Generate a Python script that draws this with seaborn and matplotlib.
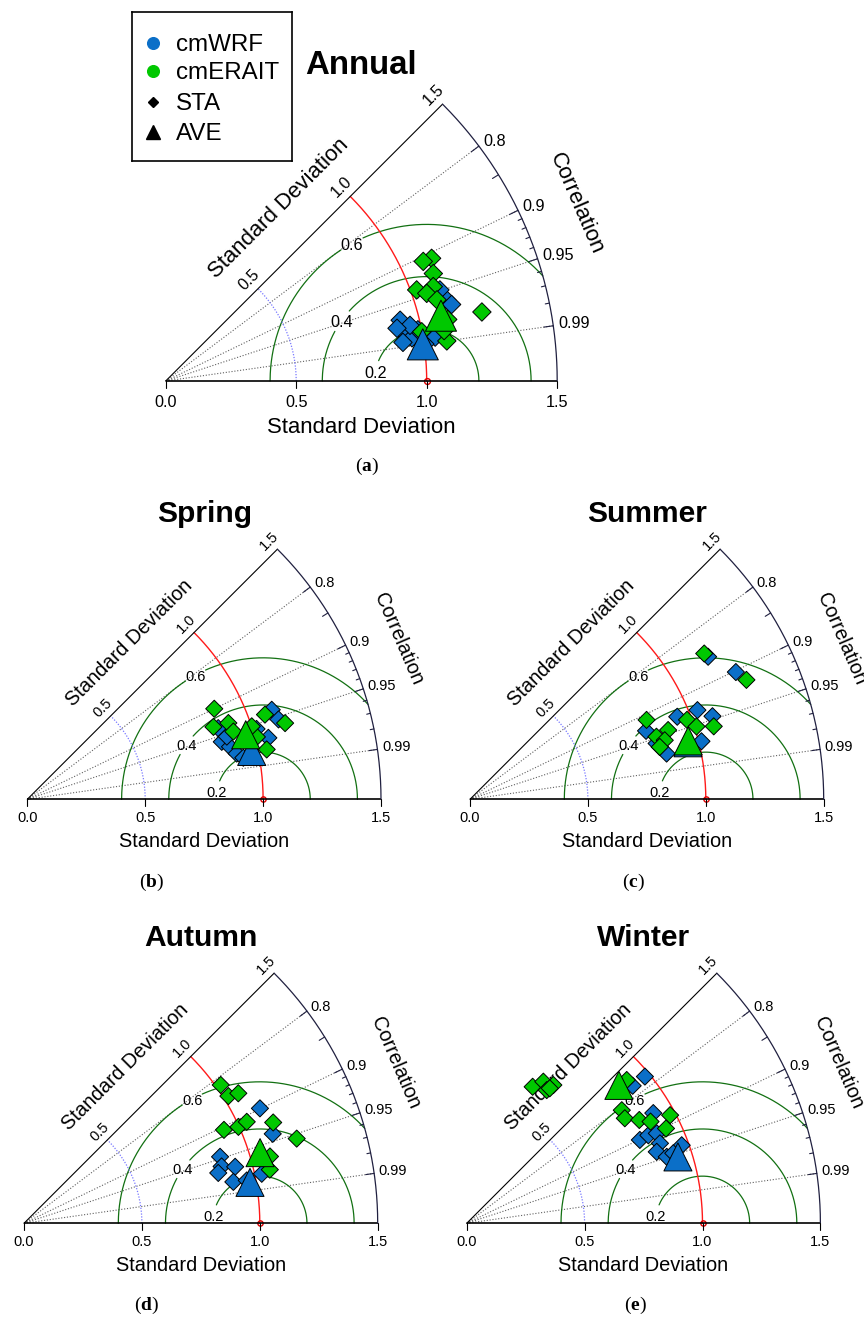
import numpy as np
import pandas as pd
import matplotlib
matplotlib.use("Agg")
import matplotlib.pyplot as plt
import seaborn as sns

# ---------------- station statistics (normalised std, correlation) ----------------
annual_wrf_std = [0.928, 0.935, 0.958, 0.921, 0.986, 1.046, 1.121, 1.134, 1.107, 1.003, 0.960, 0.909]
annual_wrf_cor = [0.968, 0.981, 0.985, 0.987, 0.980, 0.987, 0.961, 0.966, 0.949, 0.990, 0.975, 0.975]
annual_erait_std = [1.122, 1.088, 1.105, 1.023, 1.087, 1.055, 1.240, 1.088, 1.084, 1.085, 0.999, 1.106]
annual_erait_cor = [0.908, 0.907, 0.928, 0.940, 0.943, 0.948, 0.977, 0.990, 0.984, 0.958, 0.982, 0.977]

spring_wrf_std = [1.104, 1.118, 0.864, 1.055, 1.017, 0.860, 0.888, 0.909, 0.933, 0.887]
spring_wrf_cor = [0.939, 0.953, 0.937, 0.969, 0.956, 0.959, 0.968, 0.977, 0.982, 0.954]
spring_erait_std = [0.881, 1.070, 1.140, 0.847, 0.912, 0.920, 1.009, 1.037, 1.001]
spring_erait_cor = [0.900, 0.942, 0.959, 0.932, 0.935, 0.950, 0.965, 0.979, 0.951]

summer_wrf_std = [1.177, 1.250, 0.946, 1.036, 1.087, 0.801, 1.012, 0.835, 0.856, 0.826]
summer_wrf_cor = [0.858, 0.902, 0.929, 0.931, 0.946, 0.932, 0.970, 0.964, 0.974, 0.958]
summer_erait_std = [1.170, 1.277, 0.821, 0.980, 1.009, 1.079, 0.890, 0.834, 0.863, 0.835]
summer_erait_cor = [0.849, 0.918, 0.912, 0.939, 0.952, 0.958, 0.944, 0.948, 0.957, 0.964]

autumn_wrf_std = [1.113, 1.121, 0.878, 0.872, 0.927, 0.851, 0.905, 1.030, 0.962]
autumn_wrf_cor = [0.899, 0.941, 0.947, 0.961, 0.966, 0.968, 0.981, 0.979, 0.982]
autumn_erait_std = [1.020, 1.021, 1.063, 0.936, 0.997, 1.038, 1.140, 1.211, 1.081, 1.067]
autumn_erait_cor = [0.818, 0.849, 0.855, 0.906, 0.912, 0.910, 0.927, 0.955, 0.965, 0.977]

winter_wrf_std = [0.979, 0.914, 0.919, 0.815, 0.856, 0.892, 0.887, 0.861, 0.894, 0.970, 0.925]
winter_wrf_cor = [0.772, 0.770, 0.861, 0.901, 0.900, 0.904, 0.924, 0.936, 0.949, 0.940, 0.947]
winter_erait_std = [0.643, 0.683, 0.659, 0.692, 0.672, 0.911, 0.814, 0.805, 0.853, 0.891, 0.977, 0.936]
winter_erait_cor = [0.435, 0.476, 0.515, 0.531, 0.524, 0.745, 0.808, 0.833, 0.858, 0.875, 0.883, 0.903]

# averages over all stations: Annual, Spring, Summer, Autumn, Winter
ave_wrf_std = [0.995, 0.973, 0.955, 0.974, 0.939]
ave_wrf_cor = [0.990, 0.978, 0.968, 0.984, 0.954]
ave_erait_std = [1.084, 0.966, 0.958, 1.045, 0.871]
ave_erait_cor = [0.973, 0.959, 0.966, 0.958, 0.741]

season_titles = ["Annual", "Spring", "Summer", "Autumn", "Winter"]
panel_letters = ["a", "b", "c", "d", "e"]
legend_labels = ["cmWRF", "cmERAIT", "STA", "AVE"]

std_ticks = [0.0, 0.5, 1.0, 1.5]
cor_major = [0.8, 0.9, 0.95, 0.99]
cor_mid = [0.85]
cor_minor = [0.91, 0.92, 0.93, 0.94, 0.96, 0.97, 0.98]
rms_levels = [0.2, 0.4, 0.6]
rms_label_angle = {0.2: 170.5, 0.4: 144.7, 0.6: 118.6}

# ---------------- style ----------------
sns.set_theme(style="white")
plt.rcParams["font.family"] = ["Liberation Sans", "DejaVu Sans"]
plt.rcParams["text.color"] = "black"
plt.rcParams["mathtext.fontset"] = "custom"
plt.rcParams["mathtext.rm"] = "Liberation Serif"
plt.rcParams["mathtext.bf"] = "Liberation Serif:bold"

W, H, DPI = 864, 1320, 100
fig = plt.figure(figsize=(W / DPI, H / DPI), dpi=DPI)
fig.patch.set_facecolor("white")

WRF_C = "#0b6fc8"
ERA_C = "#00c800"
RMS_C = "#127012"
SMAX = 1.5
TMAX = np.pi / 4


def xy(s, c):
    s = np.asarray(s, float)
    c = np.asarray(c, float)
    return s * c, s * np.sqrt(1.0 - c ** 2)


def make_axes(ox, oy, u, xl=(-0.25, 1.95), yl=(-0.32, 1.75)):
    """Axes whose data units map to u pixels with the origin at pixel (ox, oy)."""
    left = (ox + xl[0] * u) / W
    bottom = (H - oy + yl[0] * u) / H
    ax = fig.add_axes([left, bottom, (xl[1] - xl[0]) * u / W, (yl[1] - yl[0]) * u / H])
    ax.set_xlim(xl)
    ax.set_ylim(yl)
    ax.set_axis_off()
    return ax, xl, yl


def draw_frame(ax, k):
    fs_tick = 11.7 * k
    fs_lab = 15.9 * k
    t = np.linspace(0, TMAX, 300)

    # correlation rays
    for c in cor_major:
        a = np.arccos(c)
        ax.plot([0, SMAX * np.cos(a)], [0, SMAX * np.sin(a)], color="#606060",
                lw=0.8, ls=(0, (1, 1.6)), zorder=1)

    # centred RMS difference arcs, broken where labelled
    phi = np.linspace(0, np.pi, 800)
    for r in rms_levels:
        px = 1 + r * np.cos(phi)
        py = r * np.sin(phi)
        inside = (np.hypot(px, py) <= SMAX) & (np.arctan2(py, px) <= TMAX)
        la = np.deg2rad(rms_label_angle[r])
        gap = 0.047 / r
        keep = inside & (np.abs(phi - la) > gap)
        yy = np.where(keep, py, np.nan)
        ax.plot(px, yy, color=RMS_C, lw=0.9, zorder=1)
        ax.text(1 + r * np.cos(la), r * np.sin(la), f"{r:.1f}", fontsize=fs_tick,
                ha="center", va="center_baseline", zorder=4)

    # reference std arcs
    ax.plot(0.5 * np.cos(t), 0.5 * np.sin(t), color="#7878ff", lw=0.9,
            ls=(0, (1, 1.3)), zorder=1)
    ax.plot(np.cos(t), np.sin(t), color="#ff1a1a", lw=1.0, zorder=2)
    ax.plot([1.0], [0.0], marker="o", ms=4.2 * k, mfc="none", mec="#e00000",
            mew=1.0, zorder=3)

    # boundaries
    ax.plot([0, SMAX], [0, 0], color="black", lw=1.2, solid_capstyle="butt", zorder=3)
    ax.plot([0, SMAX * np.cos(TMAX)], [0, SMAX * np.sin(TMAX)], color="black", lw=0.8, zorder=3)
    ax.plot(SMAX * np.cos(t), SMAX * np.sin(t), color="#202040", lw=0.9, zorder=3)

    # correlation ticks on the outer arc
    for group, ln in ((cor_major, 0.036), (cor_mid, 0.027), (cor_minor, 0.016)):
        for c in group:
            a = np.arccos(c)
            ax.plot([SMAX * np.cos(a), (SMAX - ln) * np.cos(a)],
                    [SMAX * np.sin(a), (SMAX - ln) * np.sin(a)],
                    color="#202040", lw=0.8, zorder=3)
    for c in cor_major:
        a = np.arccos(c)
        ax.text(1.52 * np.cos(a), 1.52 * np.sin(a) + 0.012, f"{c:g}", fontsize=fs_tick,
                ha="left", va="center_baseline", zorder=4)

    # std ticks and labels on x axis
    for s in std_ticks:
        ax.plot([s, s], [0, -0.027], color="black", lw=0.8, zorder=3)
        ax.text(s, -0.075, f"{s:.1f}", fontsize=fs_tick, ha="center",
                va="center_baseline", zorder=4)
    ax.text(0.75, -0.169, "Standard Deviation", fontsize=fs_lab, ha="center",
            va="center_baseline", zorder=4)

    # std labels on the 45 degree edge
    n = np.array([-np.sin(TMAX), np.cos(TMAX)])
    d = np.array([np.cos(TMAX), np.sin(TMAX)])
    for s in std_ticks[1:]:
        p = s * d + 0.055 * n
        ax.text(p[0], p[1], f"{s:.1f}", fontsize=fs_tick, rotation=45,
                rotation_mode="anchor", ha="center", va="center_baseline", zorder=4)
    p = 0.773 * d + 0.172 * n
    ax.text(p[0], p[1], "Standard Deviation", fontsize=fs_lab, rotation=45,
            rotation_mode="anchor", ha="center", va="center_baseline", zorder=4)

    # correlation axis title
    ac = np.deg2rad(23.3)
    ax.text(1.724 * np.cos(ac), 1.724 * np.sin(ac), "Correlation", fontsize=fs_lab,
            rotation=23.3 - 90, rotation_mode="anchor", ha="center",
            va="center_baseline", zorder=4)


def draw_points(ax, ws, wc, es, ec, i, dsize, tsize):
    wx, wy = xy(ws, wc)
    ex, ey = xy(es, ec)
    sta = pd.DataFrame({
        "x": np.r_[wx, ex],
        "y": np.r_[wy, ey],
        "source": ["cmWRF"] * len(wx) + ["cmERAIT"] * len(ex),
    })
    pal = {"cmWRF": WRF_C, "cmERAIT": ERA_C}
    sns.scatterplot(data=sta, x="x", y="y", hue="source", palette=pal, marker="D",
                    s=dsize, edgecolor="black", linewidth=0.7, legend=False, ax=ax,
                    zorder=6, clip_on=False)
    awx, awy = xy([ave_wrf_std[i]], [ave_wrf_cor[i]])
    aex, aey = xy([ave_erait_std[i]], [ave_erait_cor[i]])
    ave = pd.DataFrame({"x": np.r_[awx, aex], "y": np.r_[awy, aey],
                        "source": ["cmWRF", "cmERAIT"]})
    sns.scatterplot(data=ave, x="x", y="y", hue="source", palette=pal, marker="^",
                    s=tsize, edgecolor="black", linewidth=0.7, legend=False, ax=ax,
                    zorder=7, clip_on=False)


panel_geom = [
    # origin x, origin y (pixels), pixels per unit, letter position
    (165.7, 381.0, 261.0, (367, 466)),
    (27.3, 799.3, 235.8, (152, 882)),
    (470.0, 799.3, 235.8, (633, 882)),
    (24.0, 1223.3, 235.8, (147, 1305)),
    (466.7, 1223.3, 235.8, (635, 1305)),
]
station_data = [
    (annual_wrf_std, annual_wrf_cor, annual_erait_std, annual_erait_cor),
    (spring_wrf_std, spring_wrf_cor, spring_erait_std, spring_erait_cor),
    (summer_wrf_std, summer_wrf_cor, summer_erait_std, summer_erait_cor),
    (autumn_wrf_std, autumn_wrf_cor, autumn_erait_std, autumn_erait_cor),
    (winter_wrf_std, winter_wrf_cor, winter_erait_std, winter_erait_cor),
]

for i, ((ox, oy, u, lpos), (ws, wc, es, ec)) in enumerate(zip(panel_geom, station_data)):
    k = u / 261.0
    ax, xl, yl = make_axes(ox, oy, u)
    draw_frame(ax, k)
    dsize = 88 if i == 0 else 76
    draw_points(ax, ws, wc, es, ec, i, dsize, 500 * k * k)
    ax.text(0.75, 1.176, season_titles[i], fontsize=(23.8 if i == 0 else 21.6),
            fontweight="bold", ha="center", va="baseline", color="black")
    ax.set_xlim(xl)
    ax.set_ylim(yl)
    ax.set_axis_off()
    fig.text(lpos[0] / W, 1 - lpos[1] / H,
             r"$\mathrm{(}\mathbf{" + panel_letters[i] + r"}\mathrm{)}$",
             fontsize=14, ha="center", va="center", color="black")

# ---------------- legend ----------------
lx0, ly0, lx1, ly1 = 131.7, 11.7, 292.3, 161.0
lax = fig.add_axes([lx0 / W, 1 - ly1 / H, (lx1 - lx0) / W, (ly1 - ly0) / H])
lax.set_xlim(lx0, lx1)
lax.set_ylim(ly1, ly0)
lax.set_xticks([])
lax.set_yticks([])
lax.set_facecolor("white")
for sp in lax.spines.values():
    sp.set_visible(True)
    sp.set_color("black")
    sp.set_linewidth(1.2)
rows = [42.7, 71.0, 101.7, 131.7]
styles = [("o", WRF_C, 8.4), ("o", ERA_C, 8.4), ("D", "black", 5.3), ("^", "black", 10.5)]
for yrow, (mk, col, ms), lab in zip(rows, styles, legend_labels):
    lax.plot([153.3], [yrow], marker=mk, color=col, ms=ms, mec=col, ls="none")
    lax.text(176, yrow, lab, fontsize=17.4, ha="left", va="center_baseline", color="black")

fig.savefig("out.png", dpi=DPI, facecolor="white")
